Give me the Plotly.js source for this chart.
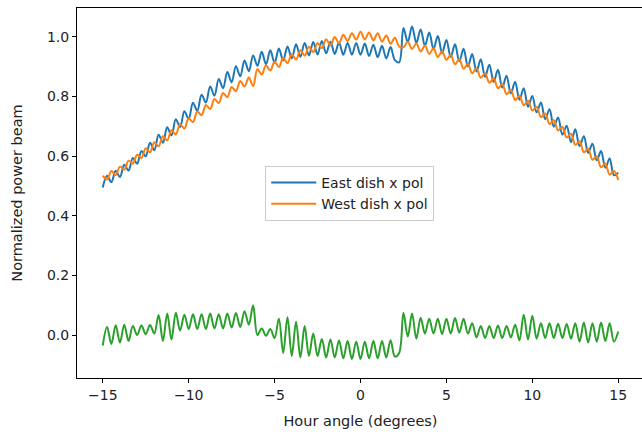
<!DOCTYPE html>
<html>
<head>
<meta charset="utf-8">
<script src="https://cdn.plot.ly/plotly-3.0.1.min.js"></script>
<style>
html,body{margin:0;padding:0;overflow:hidden;background:#fff;}
#chart{width:650px;height:432px;}
</style>
</head>
<body>
<div id="chart"></div>
<script>
// Hour angle (degrees)
const hourAngle = [
-15,-14.75,-14.5,-14.25,-14,-13.75,-13.5,-13.25,-13,-12.75,-12.5,-12.25,
-12,-11.75,-11.5,-11.25,-11,-10.75,-10.5,-10.25,-10,-9.75,-9.5,-9.25,
-9,-8.75,-8.5,-8.25,-8,-7.75,-7.5,-7.25,-7,-6.75,-6.5,-6.25,
-6,-5.75,-5.5,-5.25,-5,-4.75,-4.5,-4.25,-4,-3.75,-3.5,-3.25,
-3,-2.75,-2.5,-2.25,-2,-1.75,-1.5,-1.25,-1,-0.75,-0.5,-0.25,
0,0.25,0.5,0.75,1,1.25,1.5,1.75,2,2.25,2.5,2.75,
3,3.25,3.5,3.75,4,4.25,4.5,4.75,5,5.25,5.5,5.75,
6,6.25,6.5,6.75,7,7.25,7.5,7.75,8,8.25,8.5,8.75,
9,9.25,9.5,9.75,10,10.25,10.5,10.75,11,11.25,11.5,11.75,
12,12.25,12.5,12.75,13,13.25,13.5,13.75,14,14.25,14.5,14.75,15
];

// East dish x pol
const eastDish = [
0.495,0.534,0.513,0.551,0.530,0.571,0.552,0.594,0.575,0.617,0.600,0.645,
0.620,0.672,0.645,0.697,0.670,0.724,0.698,0.751,0.725,0.779,0.752,0.806,
0.780,0.834,0.803,0.859,0.828,0.882,0.848,0.902,0.868,0.921,0.885,0.938,
0.903,0.950,0.908,0.955,0.913,0.961,0.921,0.968,0.928,0.975,0.933,0.980,
0.938,0.983,0.941,0.986,0.945,0.984,0.943,0.981,0.940,0.980,0.940,0.980,
0.940,0.978,0.936,0.974,0.932,0.970,0.928,0.966,0.922,0.915,1.030,0.983,
1.035,0.980,1.025,0.970,1.015,0.959,1.003,0.946,0.990,0.933,0.975,0.918,
0.960,0.901,0.943,0.884,0.925,0.866,0.907,0.849,0.890,0.830,0.870,0.810,
0.850,0.789,0.828,0.766,0.802,0.747,0.780,0.724,0.757,0.699,0.730,0.672,
0.702,0.647,0.690,0.634,0.667,0.611,0.642,0.586,0.617,0.561,0.592,0.536,0.545
];

// West dish x pol
const westDish = [
0.535,0.522,0.550,0.537,0.565,0.555,0.585,0.575,0.605,0.594,0.627,0.613,
0.647,0.633,0.667,0.653,0.687,0.673,0.707,0.693,0.727,0.714,0.750,0.737,
0.772,0.758,0.792,0.778,0.812,0.798,0.832,0.818,0.852,0.834,0.864,0.835,
0.892,0.874,0.905,0.887,0.917,0.899,0.930,0.912,0.942,0.924,0.955,0.937,
0.967,0.949,0.980,0.962,0.992,0.972,1.000,0.979,1.007,0.986,1.012,0.991,
1.017,0.992,1.015,0.989,1.012,0.984,1.005,0.977,0.997,0.968,0.965,0.984,
0.960,0.978,0.951,0.971,0.943,0.962,0.933,0.952,0.923,0.940,0.908,0.925,
0.893,0.910,0.878,0.895,0.863,0.878,0.846,0.861,0.828,0.842,0.808,0.822,
0.788,0.803,0.771,0.786,0.753,0.766,0.731,0.743,0.708,0.721,0.686,0.698,
0.663,0.675,0.638,0.650,0.613,0.625,0.588,0.600,0.563,0.575,0.538,0.550,0.520
];

// Difference (green)
const difference = [
-0.035,0.027,-0.030,0.033,-0.025,0.035,-0.020,0.030,0.000,0.032,0.003,0.034,
0.005,0.067,-0.020,0.072,-0.015,0.075,0.015,0.068,0.020,0.070,0.020,0.070,
0.020,0.072,0.022,0.070,0.022,0.072,0.025,0.074,0.027,0.080,0.035,0.100,
0.000,0.022,-0.002,0.020,-0.010,0.055,-0.060,0.060,-0.070,0.045,-0.075,0.030,
-0.070,0.005,-0.070,-0.013,-0.075,-0.015,-0.075,-0.018,-0.078,-0.020,-0.080,-0.022,
-0.080,-0.022,-0.078,-0.020,-0.078,-0.020,-0.075,-0.017,-0.072,-0.060,0.075,-0.005,
0.072,-0.012,0.058,0.005,0.055,0.005,0.055,0.003,0.055,0.005,0.057,0.008,
0.055,0.005,0.040,-0.008,0.030,-0.010,0.030,-0.010,0.032,-0.010,0.030,-0.008,
0.035,-0.018,0.068,-0.015,0.065,-0.012,0.040,-0.010,0.040,-0.010,0.038,-0.010,
0.037,-0.012,0.040,-0.022,0.042,-0.025,0.040,-0.022,0.042,-0.020,0.040,-0.022,0.012
];

const xTickVals = [-15,-10,-5,0,5,10,15];
const yTickVals = [0.0,0.2,0.4,0.6,0.8,1.0];

const traces = [
  {x: hourAngle, y: eastDish, type: 'scatter', mode: 'lines', name: 'East dish x pol',
   line: {color: '#1f77b4', width: 2, shape: 'spline', smoothing: 1}},
  {x: hourAngle, y: westDish, type: 'scatter', mode: 'lines', name: 'West dish x pol',
   line: {color: '#ff7f0e', width: 2, shape: 'spline', smoothing: 1}},
  {x: hourAngle, y: difference, type: 'scatter', mode: 'lines', name: 'difference',
   showlegend: false, line: {color: '#2ca02c', width: 2, shape: 'spline', smoothing: 1}}
];

const axisCommon = {
  showline: true, linecolor: '#000', linewidth: 1, mirror: true,
  ticks: 'outside', ticklen: 4, tickwidth: 1, tickcolor: '#000',
  showgrid: false, zeroline: false,
  tickfont: {family: 'DejaVu Sans', size: 14, color: '#222'}
};

const layout = {
  width: 650, height: 432,
  margin: {l: 77, r: 6, t: 8, b: 54},
  paper_bgcolor: '#fff', plot_bgcolor: '#fff',
  font: {family: 'DejaVu Sans', size: 14, color: '#222'},
  xaxis: Object.assign({}, axisCommon, {
    range: [-16.5, 16.5], tickvals: xTickVals,
    title: {text: 'Hour angle (degrees)', font: {family: 'DejaVu Sans', size: 14.5, color: '#222'}, standoff: 14}
  }),
  yaxis: Object.assign({}, axisCommon, {
    range: [-0.144, 1.097], tickvals: yTickVals, tickformat: '.1f',
    title: {text: 'Normalized power beam', font: {family: 'DejaVu Sans', size: 14.5, color: '#222'}, standoff: 20}
  }),
  legend: {
    x: 0.332, y: 0.573, xanchor: 'left', yanchor: 'top',
    bgcolor: 'rgba(255,255,255,0.8)', bordercolor: '#ccc', borderwidth: 1,
    font: {family: 'DejaVu Sans', size: 14, color: '#222'},
    itemwidth: 45, tracegroupgap: 0
  },
  showlegend: true
};

Plotly.newPlot('chart', traces, layout, {displayModeBar: false, staticPlot: true});
</script>
</body>
</html>
